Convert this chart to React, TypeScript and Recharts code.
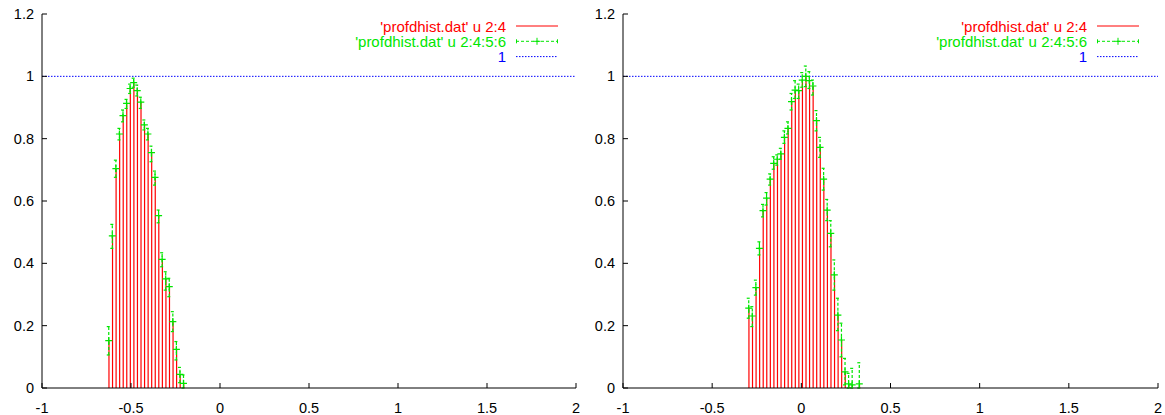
import React from 'react'
import { ComposedChart, Bar, Scatter, ErrorBar, XAxis, YAxis, ReferenceLine } from 'recharts'

const xTicks = [-1, -0.5, 0, 0.5, 1, 1.5, 2]
const yTicks = [0, 0.2, 0.4, 0.6, 0.8, 1, 1.2]

// left panel: bin centre, value, error low / high
const leftX = [-0.625, -0.605, -0.585, -0.565, -0.545, -0.525, -0.505, -0.485, -0.465, -0.445, -0.425, -0.405, -0.385, -0.365, -0.345, -0.325, -0.305, -0.285, -0.265, -0.245, -0.225, -0.205]
const leftY = [0.152, 0.488, 0.704, 0.815, 0.874, 0.913, 0.961, 0.98, 0.954, 0.917, 0.844, 0.815, 0.755, 0.676, 0.553, 0.413, 0.35, 0.325, 0.213, 0.124, 0.044, 0.015]
const leftLo = [0.106, 0.448, 0.676, 0.796, 0.854, 0.897, 0.945, 0.965, 0.937, 0.897, 0.828, 0.796, 0.726, 0.651, 0.53, 0.389, 0.314, 0.293, 0.181, 0.09, 0.017, 0.0]
const leftHi = [0.197, 0.525, 0.731, 0.833, 0.892, 0.926, 0.975, 0.994, 0.972, 0.933, 0.86, 0.833, 0.776, 0.696, 0.571, 0.434, 0.373, 0.352, 0.245, 0.149, 0.066, 0.042]

// right panel
const rightX = [-0.295, -0.275, -0.255, -0.235, -0.215, -0.195, -0.175, -0.155, -0.135, -0.115, -0.095, -0.075, -0.055, -0.035, -0.015, 0.005, 0.025, 0.045, 0.065, 0.085, 0.105, 0.125, 0.145, 0.165, 0.185, 0.205, 0.225, 0.245, 0.265, 0.285, 0.325]
const rightY = [0.256, 0.231, 0.322, 0.448, 0.569, 0.609, 0.67, 0.721, 0.734, 0.751, 0.804, 0.833, 0.919, 0.956, 0.954, 0.988, 1.0, 0.986, 0.969, 0.858, 0.772, 0.67, 0.571, 0.496, 0.363, 0.234, 0.154, 0.052, 0.013, 0.01, 0.013]
const rightLo = [0.224, 0.197, 0.298, 0.427, 0.549, 0.587, 0.651, 0.702, 0.715, 0.734, 0.785, 0.815, 0.892, 0.929, 0.929, 0.965, 0.967, 0.961, 0.94, 0.825, 0.74, 0.635, 0.537, 0.453, 0.314, 0.184, 0.1, 0.01, 0.0, 0.0, 0.0]
const rightHi = [0.288, 0.261, 0.346, 0.469, 0.589, 0.627, 0.687, 0.742, 0.748, 0.769, 0.825, 0.854, 0.945, 0.986, 0.975, 1.012, 1.033, 1.015, 0.988, 0.89, 0.804, 0.705, 0.605, 0.537, 0.411, 0.288, 0.208, 0.095, 0.047, 0.063, 0.081]

const refLevel = 1

const legendRows = [
  { label: "'profdhist.dat' u 2:4", color: '#ff0000', kind: 'impulse' },
  { label: "'profdhist.dat' u 2:4:5:6", color: '#00e600', kind: 'errorbar' },
  { label: '1', color: '#0000ff', kind: 'dotted' },
]

const RED = '#ff0000'
const GREEN = '#00e600'
const BLUE = '#0000ff'
const FONT = '"Liberation Sans", Arial, Helvetica, sans-serif'
const TICK = 5

const buildRows = (xs: number[], ys: number[], lo: number[], hi: number[]) =>
  xs.map((x, i) => ({ x, y: ys[i], err: [ys[i] - lo[i], hi[i] - ys[i]] }))

const BottomTick = (p: any) => (
  <g>
    <line x1={p.x} y1={p.y} x2={p.x} y2={p.y - TICK} stroke="#000" />
    <text x={p.x} y={p.y + 20} textAnchor="middle" dominantBaseline="central" fontSize={14.5} fill="#000">
      {p.payload.value}
    </text>
  </g>
)
const TopTick = (p: any) => <line x1={p.x} y1={p.y} x2={p.x} y2={p.y + TICK} stroke="#000" />
const LeftTick = (p: any) => (
  <g>
    <line x1={p.x} y1={p.y} x2={p.x + TICK} y2={p.y} stroke="#000" />
    <text x={p.x - 8} y={p.y} textAnchor="end" dominantBaseline="central" fontSize={14.5} fill="#000">
      {p.payload.value}
    </text>
  </g>
)
const RightTick = (p: any) => <line x1={p.x} y1={p.y} x2={p.x - TICK} y2={p.y} stroke="#000" />

const Impulse = (p: any) => {
  const cx = p.x + p.width / 2
  return <line x1={cx} y1={p.y} x2={cx} y2={p.y + p.height} stroke={RED} strokeWidth={1.2} />
}
const Cross = (p: any) => (
  <path d={`M${p.cx - 3.5},${p.cy}h7M${p.cx},${p.cy - 3.5}v7`} stroke={GREEN} strokeWidth={1.2} fill="none" />
)

function Legend() {
  return (
    <svg width={580} height={70} style={{ position: 'absolute', left: 0, top: 0 }}>
      {legendRows.map((r, i) => {
        const y = 26 + i * 15.3
        return (
          <g key={r.label}>
            <text x={506} y={y} textAnchor="end" dominantBaseline="central" fontSize={15} fill={r.color} fontFamily={FONT}>
              {r.label}
            </text>
            {r.kind === 'impulse' && <line x1={516} x2={558} y1={y} y2={y} stroke={r.color} />}
            {r.kind === 'errorbar' && (
              <g stroke={r.color} fill="none">
                <line x1={516} x2={558} y1={y} y2={y} strokeDasharray="3 2" />
                <line x1={516.5} x2={516.5} y1={y - 2} y2={y + 2} />
                <line x1={557.5} x2={557.5} y1={y - 2} y2={y + 2} />
                <path d={`M${533.5},${y}h7M${537},${y - 3.5}v7`} />
              </g>
            )}
            {r.kind === 'dotted' && <line x1={516} x2={558} y1={y} y2={y} stroke={r.color} strokeDasharray="1.5 1.5" />}
          </g>
        )
      })}
    </svg>
  )
}

function Panel({ rows, left, width }: { rows: any[]; left: number; width: number }) {
  return (
    <div style={{ position: 'absolute', left, top: 0, width, height: 415 }}>
      <ComposedChart width={width} height={415} data={rows} margin={{ top: 14, right: 4, bottom: 0, left: 0 }}>
        <XAxis
          xAxisId="b"
          dataKey="x"
          type="number"
          domain={[-1, 2]}
          ticks={xTicks}
          interval={0}
          height={27}
          tickSize={0}
          tickMargin={0}
          tickLine={false}
          axisLine={{ stroke: '#000' }}
          tick={<BottomTick />}
          allowDataOverflow
        />
        <XAxis
          xAxisId="t"
          orientation="top"
          type="number"
          domain={[-1, 2]}
          ticks={xTicks}
          interval={0}
          height={0}
          tickSize={0}
          tickMargin={0}
          tickLine={false}
          axisLine={{ stroke: '#000' }}
          tick={<TopTick />}
          allowDataOverflow
        />
        <YAxis
          yAxisId="l"
          type="number"
          domain={[0, 1.2]}
          ticks={yTicks}
          interval={0}
          width={42}
          tickSize={0}
          tickMargin={0}
          tickLine={false}
          axisLine={{ stroke: '#000' }}
          tick={<LeftTick />}
          allowDataOverflow
        />
        <YAxis
          yAxisId="r"
          orientation="right"
          type="number"
          domain={[0, 1.2]}
          ticks={yTicks}
          interval={0}
          width={0}
          tickSize={0}
          tickMargin={0}
          tickLine={false}
          axisLine={{ stroke: '#000' }}
          tick={<RightTick />}
          allowDataOverflow
        />
        <ReferenceLine xAxisId="b" yAxisId="l" y={refLevel} stroke={BLUE} strokeDasharray="1.5 1.5" />
        <Bar xAxisId="b" yAxisId="l" dataKey="y" barSize={2} shape={<Impulse />} isAnimationActive={false} />
        <Scatter xAxisId="b" yAxisId="l" dataKey="y" shape={<Cross />} isAnimationActive={false}>
          <ErrorBar dataKey="err" direction="y" width={2} stroke={GREEN} strokeWidth={1.2} strokeDasharray="3 2" isAnimationActive={false} />
        </Scatter>
      </ComposedChart>
      <Legend />
    </div>
  )
}

export default function App() {
  const leftRows = buildRows(leftX, leftY, leftLo, leftHi)
  const rightRows = buildRows(rightX, rightY, rightLo, rightHi)
  return (
    <div style={{ position: 'absolute', left: 0, top: 0, width: 1165, height: 415, background: '#fff', fontFamily: FONT }}>
      <Panel rows={leftRows} left={0} width={580} />
      <Panel rows={rightRows} left={581} width={581} />
    </div>
  )
}
